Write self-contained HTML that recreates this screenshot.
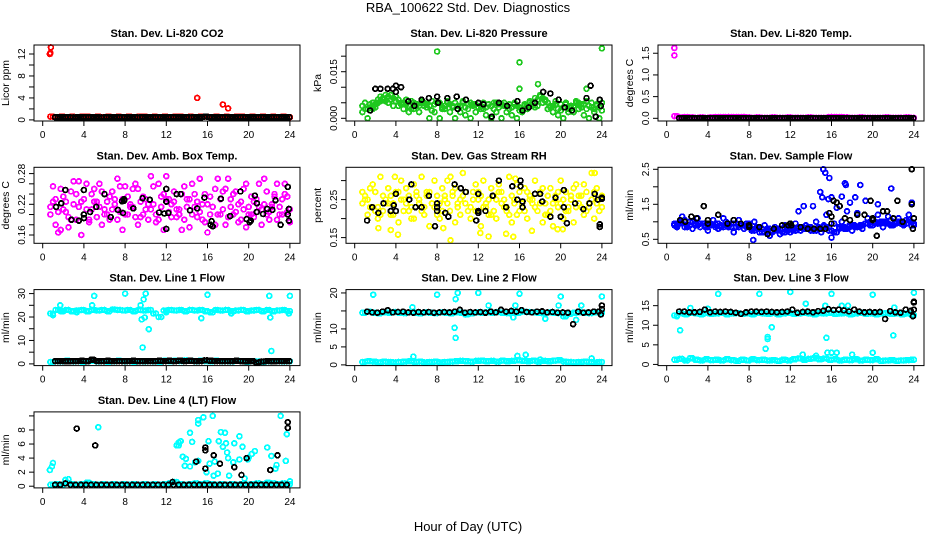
<!DOCTYPE html>
<html><head><meta charset="utf-8"><title>RBA_100622 Std. Dev. Diagnostics</title>
<style>
html,body{margin:0;padding:0;background:#fff;}
svg{display:block;font-family:"Liberation Sans",sans-serif;}
</style></head>
<body>
<svg id="chart" width="936" height="540" viewBox="0 0 936 540" xmlns="http://www.w3.org/2000/svg">
<text x="468" y="12" text-anchor="middle" font-size="13">RBA_100622  Std. Dev. Diagnostics</text>
<text x="468" y="531" text-anchor="middle" font-size="13">Hour of Day (UTC)</text>
</svg>
<script>
// shared hour grids
const hours = [0.75,1.25,1.75,2.25,2.75,3.25,3.75,4.25,4.75,5.25,5.75,6.25,6.75,7.25,7.75,8.25,8.75,9.25,9.75,10.25,10.75,11.25,11.75,12.25,12.75,13.25,13.75,14.25,14.75,15.25,15.75,16.25,16.75,17.25,17.75,18.25,18.75,19.25,19.75,20.25,20.75,21.25,21.75,22.25,22.75,23.25,23.75];
const hoursOff = [1,1.5,2,2.5,3,3.5,4,4.5,5,5.5,6,6.5,7,7.5,8,8.5,9,9.5,10,10.5,11,11.5,12,12.5,13,13.5,14,14.5,15,15.5,16,16.5,17,17.5,18,18.5,19,19.5,20,20.5,21,21.5,22,22.5,23,23.5,24];
const hoursBlack = [1.2,1.7,2.2,2.7,3.2,3.7,4.2,4.7,5.2,5.7,6.2,6.7,7.2,7.7,8.2,8.7,9.2,9.7,10.2,10.7,11.2,11.7,12.2,12.7,13.2,13.7,14.2,14.7,15.2,15.7,16.2,16.7,17.2,17.7,18.2,18.7,19.2,19.7,20.2,20.7,21.2,21.7,22.2,22.7,23.2,23.7];
const hoursBlackOff = [1.45,1.95,2.45,2.95,3.45,3.95,4.45,4.95,5.45,5.95,6.45,6.95,7.45,7.95,8.45,8.95,9.45,9.95,10.45,10.95,11.45,11.95,12.45,12.95,13.45,13.95,14.45,14.95,15.45,15.95,16.45,16.95,17.45,17.95,18.45,18.95,19.45,19.95,20.45,20.95,21.45,21.95,22.45,22.95,23.45,23.95];
const xTicks = [0,4,8,12,16,20,24];

// CO2
const co2Red = [0.6,0.5,0.6,0.5,0.6,0.5,0.6,0.6,0.5,0.6,0.5,0.6,0.5,0.6,0.5,0.6,0.5,0.6,0.6,0.5,0.6,0.5,0.6,0.5,0.6,0.6,0.5,0.6,0.5,0.6,0.6,0.5,0.6,0.5,0.6,0.5,0.6,0.6,0.5,0.6,0.5,0.6,0.5,0.6,0.5,0.6,0.5];
const co2OutHours = [0.7,0.75,0.8,15,17.5,18];
const co2OutVals = [12,12.2,13.2,4,2.8,2.1];
const co2Black = [0.5,0.5,0.5,0.45,0.5,0.5,0.5,0.5,0.5,0.45,0.5,0.5,0.5,0.5,0.5,0.5,0.45,0.5,0.5,0.5,0.5,0.5,0.5,0.5,0.5,0.5,0.45,0.5,0.5,0.6,0.5,0.5,0.5,0.5,0.5,0.5,0.5,0.5,0.5,0.5,0.5,0.5,0.5,0.5,0.5,0.5];

// Pressure
const presGreenA = [0.004,0.003,0.005,0.006,0.0065,0.007,0.0065,0.006,0.005,0.004,0.005,0.004,0.005,0.004,0.0045,0.005,0.004,0.0045,0.005,0.004,0.0035,0.005,0.0045,0.004,0.0035,0.004,0.005,0.0045,0.004,0.0035,0.004,0.003,0.004,0.005,0.006,0.0065,0.005,0.004,0.003,0.0035,0.003,0.004,0.005,0.0045,0.004,0.003,0.0035];
const presGreenB = [0.002,0.0,0.003,0.005,0.006,0.005,0.004,0.004,0.003,0.002,0.003,0.002,0.004,0.0,0.002,0.0,0.003,0.002,0.0,0.002,0.001,0.0,0.002,0.003,0.001,0.0,0.002,0.0,0.002,0.001,0.0,0.002,0.003,0.004,0.004,0.005,0.003,0.002,0.001,0.0,0.002,0.002,0.003,0.001,0.0,0.002,0.0];
const presGreenC = [0.005,0.0045,0.0035,0.0055,0.0075,0.006,0.0055,0.005,0.0045,0.0055,0.004,0.005,0.0035,0.0055,0.005,0.0035,0.005,0.0035,0.004,0.005,0.0045,0.004,0.0035,0.005,0.0045,0.005,0.0035,0.005,0.0045,0.005,0.0025,0.0045,0.005,0.0035,0.0075,0.0055,0.004,0.0055,0.0045,0.005,0.004,0.005,0.0035,0.0055,0.005,0.0045,0.005];
const presGreenD = [0.003,0.0035,0.0045,0.007,0.0055,0.0075,0.007,0.0045,0.006,0.003,0.0045,0.0055,0.0045,0.0025,0.005,0.003,0.0055,0.004,0.003,0.0055,0.003,0.0045,0.005,0.003,0.0045,0.003,0.0045,0.004,0.003,0.0045,0.0035,0.004,0.0055,0.0065,0.007,0.006,0.0035,0.0045,0.0025,0.0045,0.0035,0.0055,0.0045,0.003,0.0035,0.004,0.0025];
const presOutHours = [8,16,24,16,22.5,17.8];
const presOutVals = [0.0215,0.018,0.0225,0.0095,0.0095,0.011];
const presBlackHours = [1.5,2,2.5,3.2,3.7,4.5,4,4,5.2,5.8,6.5,7.2,8,8.1,9,9.9,10,10.8,12,12.5,13.3,14,14.8,15.8,16.3,16.9,17.5,18.3,19,19.8,20.4,21.1,22.5,22.9,23.4,23.8,23.9];
const presBlackVals = [0.0025,0.0095,0.0095,0.0095,0.0095,0.01,0.0085,0.0105,0.0055,0.004,0.006,0.0065,0.007,0.005,0.0065,0.007,0.003,0.006,0.005,0.0045,0.0005,0.005,0.004,0.0055,0.0025,0.0035,0.005,0.0085,0.008,0.006,0.0035,0.0025,0.0065,0.0105,0.0005,0.006,0.004];

// Li-820 temp
const tempMag = [0.05,0.02,0.03,0.02,0.01,0.02,0.01,0.02,0.03,0.03,0.03,0.03,0.03,0.03,0.02,0.01,0.02,0.01,0.01,0.02,0.01,0.01,0.02,0.01,0.01,0.01,0.02,0.01,0.01,0.01,0.03,0.03,0.03,0.02,0.01,0.01,0.02,0.01,0.01,0.01,0.01,0.02,0.01,0.01,0.01,0.02,0.01];
const tempOutHours = [0.75,0.75];
const tempOutVals = [1.62,1.45];
const tempBlack = [0.005,0.005,0.005,0.005,0.005,0.005,0.005,0.005,0.005,0.005,0.005,0.005,0.005,0.005,0.005,0.005,0.005,0.005,0.005,0.005,0.005,0.005,0.005,0.005,0.005,0.005,0.005,0.005,0.005,0.005,0.005,0.005,0.005,0.005,0.005,0.005,0.005,0.005,0.005,0.005,0.005,0.005,0.005,0.005,0.005,0.005];

// Amb box temp
const ambA = [0.215,0.23,0.25,0.205,0.19,0.24,0.225,0.26,0.21,0.195,0.245,0.225,0.21,0.27,0.23,0.2,0.215,0.25,0.235,0.19,0.22,0.26,0.24,0.205,0.225,0.2,0.255,0.23,0.215,0.27,0.24,0.2,0.18,0.23,0.25,0.215,0.205,0.225,0.26,0.2,0.23,0.21,0.245,0.22,0.26,0.2,0.235];
const ambB = [0.2,0.18,0.17,0.225,0.245,0.19,0.16,0.21,0.24,0.225,0.18,0.2,0.245,0.19,0.17,0.235,0.25,0.18,0.2,0.22,0.255,0.19,0.17,0.23,0.245,0.21,0.19,0.175,0.24,0.205,0.185,0.235,0.25,0.2,0.18,0.23,0.245,0.19,0.175,0.235,0.205,0.18,0.2,0.215,0.19,0.23,0.205];
const ambC = [0.225,0.205,0.235,0.195,0.265,0.215,0.23,0.19,0.25,0.215,0.2,0.235,0.22,0.205,0.255,0.215,0.195,0.225,0.21,0.275,0.2,0.215,0.23,0.22,0.195,0.24,0.215,0.2,0.225,0.19,0.22,0.215,0.27,0.21,0.195,0.24,0.22,0.21,0.2,0.225,0.215,0.27,0.205,0.235,0.215,0.24,0.21];
const ambD = [0.255,0.165,0.21,0.175,0.22,0.265,0.2,0.185,0.225,0.26,0.21,0.19,0.23,0.255,0.2,0.22,0.26,0.195,0.23,0.21,0.185,0.235,0.275,0.195,0.21,0.17,0.23,0.26,0.195,0.22,0.165,0.215,0.2,0.245,0.27,0.2,0.185,0.25,0.215,0.195,0.26,0.22,0.19,0.24,0.2,0.26,0.185];
const ambBlackHours = [1.3,1.8,2.2,2.8,3.5,4,4,4,4.6,5.2,6,6.6,7.3,7.7,7.9,7.9,7.8,8.8,9.7,10.4,11.3,11.8,12.2,12,12,12,13,13.4,14.3,15,15.7,16.4,16.3,16.5,17.3,18.2,19.2,19.8,21.4,22.3,20.8,20.8,22.6,20.2,20.1,20.6,21.8,23.1,23.8,23.8,23.9,23.9];
const ambBlackVals = [0.215,0.222,0.248,0.19,0.188,0.248,0.2,0.193,0.205,0.215,0.24,0.195,0.209,0.226,0.227,0.23,0.203,0.212,0.232,0.229,0.204,0.202,0.203,0.225,0.25,0.172,0.24,0.24,0.208,0.212,0.233,0.187,0.18,0.177,0.231,0.197,0.245,0.191,0.201,0.209,0.222,0.205,0.228,0.188,0.185,0.237,0.211,0.18,0.254,0.2,0.211,0.188];

// Gas stream RH
const rhA = [0.27,0.25,0.29,0.23,0.26,0.28,0.24,0.27,0.22,0.26,0.29,0.25,0.23,0.27,0.3,0.24,0.26,0.22,0.28,0.25,0.27,0.23,0.29,0.26,0.24,0.28,0.25,0.27,0.23,0.26,0.29,0.24,0.27,0.25,0.22,0.28,0.26,0.24,0.27,0.25,0.23,0.28,0.26,0.29,0.24,0.27,0.25];
const rhB = [0.24,0.21,0.23,0.2,0.22,0.24,0.21,0.19,0.25,0.22,0.2,0.24,0.21,0.18,0.23,0.2,0.25,0.22,0.19,0.21,0.24,0.2,0.22,0.18,0.23,0.21,0.2,0.24,0.22,0.19,0.21,0.23,0.2,0.24,0.22,0.19,0.21,0.18,0.23,0.2,0.22,0.19,0.24,0.21,0.23,0.2,0.22];
const rhC = [0.26,0.28,0.22,0.31,0.25,0.21,0.27,0.3,0.24,0.2,0.27,0.31,0.26,0.24,0.21,0.28,0.3,0.26,0.24,0.32,0.22,0.27,0.25,0.3,0.21,0.26,0.29,0.23,0.31,0.25,0.22,0.28,0.26,0.3,0.24,0.21,0.28,0.25,0.3,0.22,0.26,0.29,0.23,0.27,0.32,0.24,0.26];
const rhD = [0.25,0.23,0.27,0.21,0.24,0.26,0.22,0.25,0.28,0.23,0.26,0.22,0.27,0.24,0.26,0.22,0.24,0.27,0.23,0.26,0.22,0.25,0.27,0.23,0.25,0.22,0.27,0.25,0.21,0.24,0.27,0.22,0.25,0.23,0.27,0.24,0.22,0.26,0.24,0.27,0.25,0.23,0.26,0.22,0.25,0.28,0.23];
const rhOutHours = [9.3,13,14.7,15.4,4.2,3.5,2.3,19.7,20.2,12.2,17.2,8.6,23.3,3.9,9.3,15.6];
const rhOutVals = [0.143,0.153,0.16,0.152,0.158,0.17,0.175,0.172,0.172,0.162,0.168,0.175,0.32,0.31,0.31,0.305];
const rhBlackHours = [1.2,1.7,2.3,2.8,3.5,3.8,4,4,5.3,5.5,5.9,6.5,7.2,8,8,8,7.8,8.8,9.1,9.7,10.3,10.8,12,12,12,11.8,12.7,13.4,14,14.7,15.3,15.8,16.3,16.3,16.1,16.1,17.5,18,18.2,19,19.5,20,20.3,20.3,20.6,21.4,22.2,22.8,23.3,23.6,24,24,23.8,23.8];
const rhBlackVals = [0.195,0.23,0.215,0.24,0.22,0.235,0.265,0.22,0.25,0.29,0.23,0.23,0.26,0.24,0.23,0.22,0.18,0.215,0.205,0.29,0.28,0.27,0.265,0.22,0.215,0.195,0.22,0.26,0.3,0.23,0.285,0.25,0.245,0.23,0.3,0.285,0.265,0.265,0.245,0.205,0.255,0.205,0.23,0.275,0.188,0.24,0.225,0.24,0.265,0.25,0.252,0.255,0.185,0.178];

// Sample flow
const flowA = [0.95,1.0,1.05,0.9,0.95,0.85,0.9,0.95,0.85,0.9,1.0,0.85,0.95,0.9,0.85,0.8,0.85,0.8,0.75,0.7,0.75,0.8,0.75,0.8,0.8,0.85,0.8,0.8,0.85,0.9,0.85,0.95,0.8,0.85,0.85,0.9,0.85,0.95,1.0,1.0,0.95,1.0,1.05,0.95,1.0,0.95,1.0];
const flowB = [0.85,1.15,0.9,0.8,1.1,0.95,0.75,1.05,0.8,1.1,0.85,0.7,1.05,0.8,0.9,1.0,0.7,0.9,0.6,0.85,0.65,0.9,0.7,0.95,0.75,0.9,0.75,1.0,0.7,1.2,1.7,1.4,1.0,1.3,0.75,1.25,0.8,1.1,0.9,1.2,0.85,1.15,0.9,1.1,0.9,1.2,0.95];
const flowC = [0.9,0.95,0.85,1.0,0.9,0.95,0.85,0.9,0.95,0.85,0.9,0.95,0.85,0.9,0.95,0.75,0.8,0.7,0.8,0.75,0.8,0.7,0.8,0.75,0.85,0.8,0.85,0.75,0.8,0.85,0.75,0.7,0.85,0.8,0.9,0.85,0.9,0.95,0.9,0.95,1.0,0.95,0.9,1.0,0.95,1.05,0.9];
const flowOutHours = [15.2,15.4,15.8,14.9,15.1,17.3,17.4,18.8,21.8,18.3,16,17,14.2,13.3,20.5,23.8,16,8.4,12.8,19.3,15.7,17.8];
const flowOutVals = [2.5,2.4,2.25,1.85,1.7,2.1,2.05,2.05,1.95,1.7,1.7,1.72,1.45,1.45,1.5,1.55,0.55,0.48,1.3,1.6,1.65,1.55];
const flowBlackHours = [1.3,1.8,2.4,2.9,3.6,4,4,5,5.9,6.5,7.2,8,8,9,9.8,10.4,11.2,11.8,12,12.1,13,13.7,14.3,14.9,15.4,15.8,16,16,16.2,16.5,16.8,17.3,17.8,18.5,19.2,19.8,20,20,20.4,21,21.4,22,22.4,22.9,23.8,23.8,23.9,24];
const flowBlackVals = [1.05,1.0,1.15,1.1,1.45,1.05,0.95,1.2,0.95,1.05,0.95,0.9,0.85,0.85,0.65,0.8,0.9,0.9,0.95,0.9,0.85,0.8,0.8,0.8,0.8,1.25,1.15,0.95,1.6,1.55,1.45,1.1,1.05,1.2,1.2,1.6,1.05,1.1,0.6,1.3,1.3,1.1,1.6,1.0,1.5,2.5,0.8,1.1];

// Line 1
const l1High = [21.5,23,22.5,23,22.5,22.8,23,22.5,23,22.8,23,22.5,23.2,23,22.8,23,22.5,23,22.8,23,21.5,20,22.8,23,22.8,23,22.5,23,22.8,23,22.5,22,23,22.8,23,22.5,22.8,23,22.5,22.8,23,22.5,23,22.5,22.8,23,22.5];
const l1Low = [0.8,1.2,1.0,1.3,1.0,1.2,0.9,1.1,1.3,1.0,1.2,0.9,1.1,1.3,1.0,1.2,0.9,1.1,1.0,1.2,1.0,0.9,1.3,1.1,1.4,1.2,1.5,1.3,1.1,1.4,1.2,1.0,1.3,1.1,1.2,1.0,1.3,1.1,0.9,1.2,1.0,0.8,1.1,1.0,1.2,1.0,1.1];
const l1OutHours = [1,1.7,5,8,10,16,22,24,9.5,9.8,9.6,9.9,10.3,9.7,15.4,22.1,22.2,23.9,12,18.3,4.8,3.3];
const l1OutVals = [20.8,25,29,30,30,29.5,29,29,25,27.5,19,19.8,14.8,7,19.5,19.8,5.5,21.5,22,21.5,25,22];
const l1Black = [1.2,1.2,1.1,1.2,1.2,1.3,1.2,1.8,1.2,1.2,1.3,1.2,1.2,1.2,1.2,1.3,1.2,1.2,1.2,1.2,1.3,1.2,1.3,1.2,1.4,1.2,1.3,1.2,1.2,1.5,1.3,1.2,1.2,1.2,1.2,1.3,1.2,1.1,1.2,0.6,1.0,1.2,1.1,1.2,1.2,1.2];

// Line 2
const l2High = [14.5,14.8,14.5,14.3,14.6,14.5,14.7,14.5,14.4,14.6,14.5,14.3,14.6,14.5,14.4,14.6,14.5,14.3,14.6,14.5,14.0,14.3,14.6,14.5,14.6,14.5,14.7,14.5,14.4,14.6,14.5,14.8,14.7,14.6,14.5,14.3,14.6,14.5,14.4,13.5,14.2,14.5,14.6,14.5,14.4,14.6,14.5];
const l2Low = [0.8,1.0,0.9,0.7,0.9,0.8,0.7,0.8,0.9,1.0,0.8,0.9,0.7,0.8,0.9,0.7,0.8,0.9,1.0,1.1,1.0,0.9,1.1,1.2,1.0,1.1,0.9,1.2,1.0,1.1,1.3,1.1,1.0,1.2,0.9,1.1,1.0,1.2,1.3,0.9,0.8,0.7,0.8,0.9,0.8,0.7,0.8];
const l2OutHours = [1.8,8,10,12,16,20,24,9.8,9.7,9.8,13,15.6,18.5,15.4,5.6,22,21.5,19.8,5.7,15.8,16.6,23,18];
const l2OutVals = [19.5,19.5,20,20,19.8,19,19,18.3,10.3,7.5,16.5,16.5,12.8,13.2,16,16.5,12.5,16.5,2.3,2.5,2.8,1.8,1.5];
const l2Black = [14.8,14.6,14.5,14.8,15.2,14.6,14.7,14.8,14.6,14.5,14.7,14.6,14.7,14.5,14.6,14.7,14.6,14.8,15.3,14.5,14.7,14.6,14.7,14.5,14.8,14.6,15.3,14.8,15.0,14.8,15.2,14.7,14.6,14.8,14.9,14.6,14.7,14.5,14.6,14.5,11.3,14.8,14.5,14.6,14.8,14.8];
const l2BlackXHours = [24,24,23.9];
const l2BlackXVals = [16.5,15.5,14];

// Line 3
const l3High = [12.5,13,12.8,13.2,13,12.8,13.1,12.9,13,13.2,12.8,13,13.1,12.9,13,12.8,13.2,13,12.9,13.1,12.8,13,13.2,12.9,13,13.2,13,12.8,13.1,13,13.2,12.9,13,13.1,12.8,13,13.2,12.9,13,12.8,13,13.1,12.9,13,12.8,13,12.6];
const l3Low = [1.2,1.4,1.0,1.6,1.2,1.0,1.3,1.1,1.2,1.0,1.3,1.1,0.9,1.2,1.0,1.3,1.1,1.2,1.0,1.1,0.9,1.2,1.0,1.3,1.5,1.2,1.4,1.6,1.3,1.5,1.2,1.3,1.0,1.2,1.1,1.3,1.0,1.2,1.1,1.3,0.9,1.0,1.1,0.9,1.0,1.1,1.2];
const l3OutHours = [1,1.3,5,9,12,16,20,24,10.2,9.8,9.8,9.6,15.5,22,22.1,13.5,15.4,17,17.6,4,2.3,15.6,16,16.5,20,18,13.2,14.5];
const l3OutVals = [12.3,8.7,18,18,18.5,18,17.8,18.3,9.5,7,6.5,4,6.8,7.4,14.5,15.5,15,15,15,14.2,14.4,3,3,3,3,2.5,2.5,2.2];
const l3Black = [13.5,13.5,13.3,13.3,13.4,14.0,13.3,13.5,13.4,13.5,13.4,13.2,12.9,13.3,13.5,13.5,13.4,13.5,13.4,13.3,13.4,13.5,14.0,13.2,13.4,13.5,13.3,13.6,13.7,14.1,13.9,14.0,13.8,13.5,14.0,13.5,13.3,13.4,13.3,13.4,11.6,13.6,13.3,13.2,14.0,13.7];
const l3BlackXHours = [24,24,23.9,24];
const l3BlackXVals = [16,15.8,12.3,14];

// Line 4
const l4Low = [0.2,0.3,0.2,0.4,0.3,0.2,0.3,0.5,0.3,0.2,0.3,0.2,0.3,0.2,0.3,0.2,0.3,0.2,0.3,0.2,0.3,0.2,0.3,0.4,0.6,0.3,0.2,0.3,0.4,0.3,0.4,0.3,0.2,0.3,0.2,0.3,0.2,0.3,0.2,0.3,0.4,0.3,0.5,0.4,0.3,0.4,0.3];
const l4ScatHours = [0.7,0.9,1,2.2,2.5,5.4,13,13.2,13.4,13.2,13.6,13.8,14.3,14.3,14.5,14.8,15.1,15.1,15.6,15.9,16.1,16.2,16.5,16.7,17,17.1,17.3,17.5,17.8,17.9,18,18.1,18.5,18.6,19.1,19.1,19.4,19.6,20,20.3,20.6,21.8,22.2,22.6,22.7,23.1,23.7,23.6,24,15.1,19.9,17.7,13.9,16.6];
const l4ScatVals = [2.3,2.8,3.3,0.9,1,8.4,5.8,6.2,6.4,5.8,4.2,2.9,2.8,7.6,6.3,3.4,9.4,8.9,9.8,2,6.4,3.2,10,3.5,1.8,6.4,7.7,5.6,6.1,4.8,4,1.5,3.4,6.1,7.1,3.8,5.6,1.1,4.1,4.6,5,5.5,4.3,2.5,3,10,7.4,3.6,0.7,3.6,3.8,7.6,3.9,1.5];
const l4Black = [0.2,0.2,0.4,0.2,0.2,0.2,0.2,0.2,0.2,0.2,0.2,0.2,0.2,0.2,0.2,0.2,0.2,0.2,0.2,0.2,0.2,0.2,0.2,0.2,0.2,0.2,0.2,0.2,0.2,0.2,0.2,0.2,0.2,0.2,0.2,0.2,0.2,0.2,0.2,0.2,0.2,0.2,0.2,0.2,0.2,0.2];
const l4BlackXHours = [3.3,5.1,12.6,14.9,15.8,15.8,15.8,16.6,17.2,18.6,19.3,19.8,22.1,22.8,23.8,23.8];
const l4BlackXVals = [8.2,5.8,0.6,3.5,5.5,5.1,2.5,4.4,3.2,2.7,1.6,4.0,2.3,4.4,9.1,8.3];

const NS = 'http://www.w3.org/2000/svg';
const svg = document.getElementById('chart');

function mk(tag, attrs, parent){
  const e = document.createElementNS(NS, tag);
  for (const k in attrs) e.setAttribute(k, attrs[k]);
  parent.appendChild(e);
  return e;
}

const panels = [
 {name:'co2', title:'Stan. Dev. Li-820 CO2', ylab:'Licor ppm', col:0,row:0, ymin:-0.2, ymax:13.64, ticks:[0,2,4,6,8,10,12], labels:['0','','4','','8','','12'], color:'#ff0000',
  series:[[hours,co2Red,'c'],[hoursOff,co2Red,'c'],[co2OutHours,co2OutVals,'c'],[hoursBlack,co2Black,'k'],[hoursBlackOff,co2Black,'k']]},
 {name:'pressure', title:'Stan. Dev. Li-820 Pressure', ylab:'kPa', col:1,row:0, ymin:-0.00087, ymax:0.0236, ticks:[0,0.005,0.01,0.015,0.02], labels:['0.000','','','0.015',''], color:'#1ec81e',
  series:[[hours,presGreenB,'c'],[hoursOff,presGreenC,'c'],[hours,presGreenA,'c'],[hoursOff,presGreenD,'c'],[presOutHours,presOutVals,'c'],[presBlackHours,presBlackVals,'k']]},
 {name:'li820-temp', title:'Stan. Dev. Li-820 Temp.', ylab:'degrees C', col:2,row:0, ymin:-0.062, ymax:1.69, ticks:[0,0.5,1,1.5], labels:['0.0','0.5','1.0','1.5'], color:'#ff00ff',
  series:[[hours,tempMag,'c'],[hoursOff,tempMag,'c'],[tempOutHours,tempOutVals,'c'],[hoursBlack,tempBlack,'k'],[hoursBlackOff,tempBlack,'k']]},
 {name:'amb-box-temp', title:'Stan. Dev. Amb. Box Temp.', ylab:'degrees C', col:0,row:1, ymin:0.1438, ymax:0.2923, ticks:[0.16,0.18,0.2,0.22,0.24,0.26,0.28], labels:['0.16','','','0.22','','','0.28'], color:'#ff00ff',
  series:[[hours,ambA,'c'],[hours,ambB,'c'],[hoursOff,ambC,'c'],[hoursOff,ambD,'c'],[ambBlackHours,ambBlackVals,'k']]},
 {name:'gas-stream-rh', title:'Stan. Dev. Gas Stream RH', ylab:'percent', col:1,row:1, ymin:0.135, ymax:0.335, ticks:[0.15,0.2,0.25,0.3], labels:['0.15','','0.25',''], color:'#ffff00',
  series:[[hours,rhA,'c'],[hours,rhB,'c'],[hoursOff,rhC,'c'],[hoursOff,rhD,'c'],[rhOutHours,rhOutVals,'c'],[rhBlackHours,rhBlackVals,'k']]},
 {name:'sample-flow', title:'Stan. Dev. Sample Flow', ylab:'ml/min', col:2,row:1, ymin:0.386, ymax:2.557, ticks:[0.5,1,1.5,2,2.5], labels:['0.5','','1.5','','2.5'], color:'#0000ff',
  series:[[hours,flowA,'c'],[hoursOff,flowB,'c'],[hoursOff,flowC,'c'],[hours,flowC,'c'],[flowOutHours,flowOutVals,'c'],[flowBlackHours,flowBlackVals,'k']]},
 {name:'line1-flow', title:'Stan. Dev. Line 1 Flow', ylab:'ml/min', col:0,row:2, ymin:-0.73, ymax:31.7, ticks:[0,5,10,15,20,25,30], labels:['0','','10','','20','','30'], color:'#00ffff',
  series:[[hours,l1High,'c'],[hoursOff,l1High,'c'],[hours,l1Low,'c'],[hoursOff,l1Low,'c'],[l1OutHours,l1OutVals,'c'],[hoursBlack,l1Black,'k'],[hoursBlackOff,l1Black,'k']]},
 {name:'line2-flow', title:'Stan. Dev. Line 2 Flow', ylab:'ml/min', col:1,row:2, ymin:-0.2, ymax:20.93, ticks:[0,5,10,15,20], labels:['0','5','10','','20'], color:'#00ffff',
  series:[[hours,l2High,'c'],[hoursOff,l2High,'c'],[hours,l2Low,'c'],[hoursOff,l2Low,'c'],[l2OutHours,l2OutVals,'c'],[hoursBlack,l2Black,'k'],[l2BlackXHours,l2BlackXVals,'k']]},
 {name:'line3-flow', title:'Stan. Dev. Line 3 Flow', ylab:'ml/min', col:2,row:2, ymin:-0.3, ymax:19.1, ticks:[0,5,10,15], labels:['0','5','10','15'], color:'#00ffff',
  series:[[hours,l3High,'c'],[hoursOff,l3High,'c'],[hours,l3Low,'c'],[hoursOff,l3Low,'c'],[l3OutHours,l3OutVals,'c'],[hoursBlack,l3Black,'k'],[l3BlackXHours,l3BlackXVals,'k']]},
 {name:'line4-flow', title:'Stan. Dev. Line 4 (LT) Flow', ylab:'ml/min', col:0,row:3, ymin:-0.24, ymax:10.57, ticks:[0,2,4,6,8,10], labels:['0','2','4','6','8',''], color:'#00ffff',
  series:[[hours,l4Low,'c'],[hoursOff,l4Low,'c'],[l4ScatHours,l4ScatVals,'c'],[hoursBlack,l4Black,'k'],[l4BlackXHours,l4BlackXVals,'k']]}
];

panels.forEach(p => {
  const L = 34 + 312*p.col, T = 45 + 122.3*p.row, W = 266, Hh = 76, B = T + Hh;
  const xs = h => L + 8.7 + h*10.3;
  const ys = v => B - (v - p.ymin)/(p.ymax - p.ymin)*Hh;
  const g = mk('g', {}, svg);
  
  
  const t = mk('text', {x: L + W/2, y: T - 8, 'text-anchor':'middle', 'font-size':'11', 'font-weight':'bold'}, g);
  t.textContent = p.title;
  
  
  const yl = mk('text', {x: 0, y: 0, 'text-anchor':'middle', 'font-size':'10.5', transform:`translate(${L-25},${T+Hh/2}) rotate(-90)`}, g);
  yl.textContent = p.ylab;
  
  
  const pts = mk('g', {fill:'none', 'stroke-width':'1.8', 'shape-rendering':'crispEdges'}, g);
  
  
  p.series.forEach(s => {
    const hx = s[0], vals = s[1], col = s[2] === 'k' ? '#000' : p.color;
    for (let i = 0; i < vals.length && i < hx.length; i++) {
      const c = mk('circle', {cx: xs(hx[i]).toFixed(1), cy: ys(vals[i]).toFixed(1), r: 2.4, stroke: col}, pts);
      
      
    }
  });
  const box = mk('rect', {x: L, y: T, width: W, height: Hh, fill:'none', stroke:'#000', 'stroke-width':'1'}, g);
  
  
  const xa = mk('g', {}, g);
  
  
  xTicks.forEach(v => {
    mk('line', {x1: xs(v), x2: xs(v), y1: B, y2: B+5, stroke:'#000'}, xa);
    const tx = mk('text', {x: xs(v), y: B+17, 'text-anchor':'middle', 'font-size':'10'}, xa);
    tx.textContent = String(v);
  });
  const ya = mk('g', {}, g);
  
  
  p.ticks.forEach((v, i) => {
    mk('line', {x1: L-5, x2: L, y1: ys(v), y2: ys(v), stroke:'#000'}, ya);
    if (p.labels[i]) {
      const tx = mk('text', {x:0, y:0, 'text-anchor':'middle', 'font-size':'10', transform:`translate(${L-9},${ys(v)}) rotate(-90)`}, ya);
      tx.textContent = p.labels[i];
    }
  });
});
</script>
</body></html>
